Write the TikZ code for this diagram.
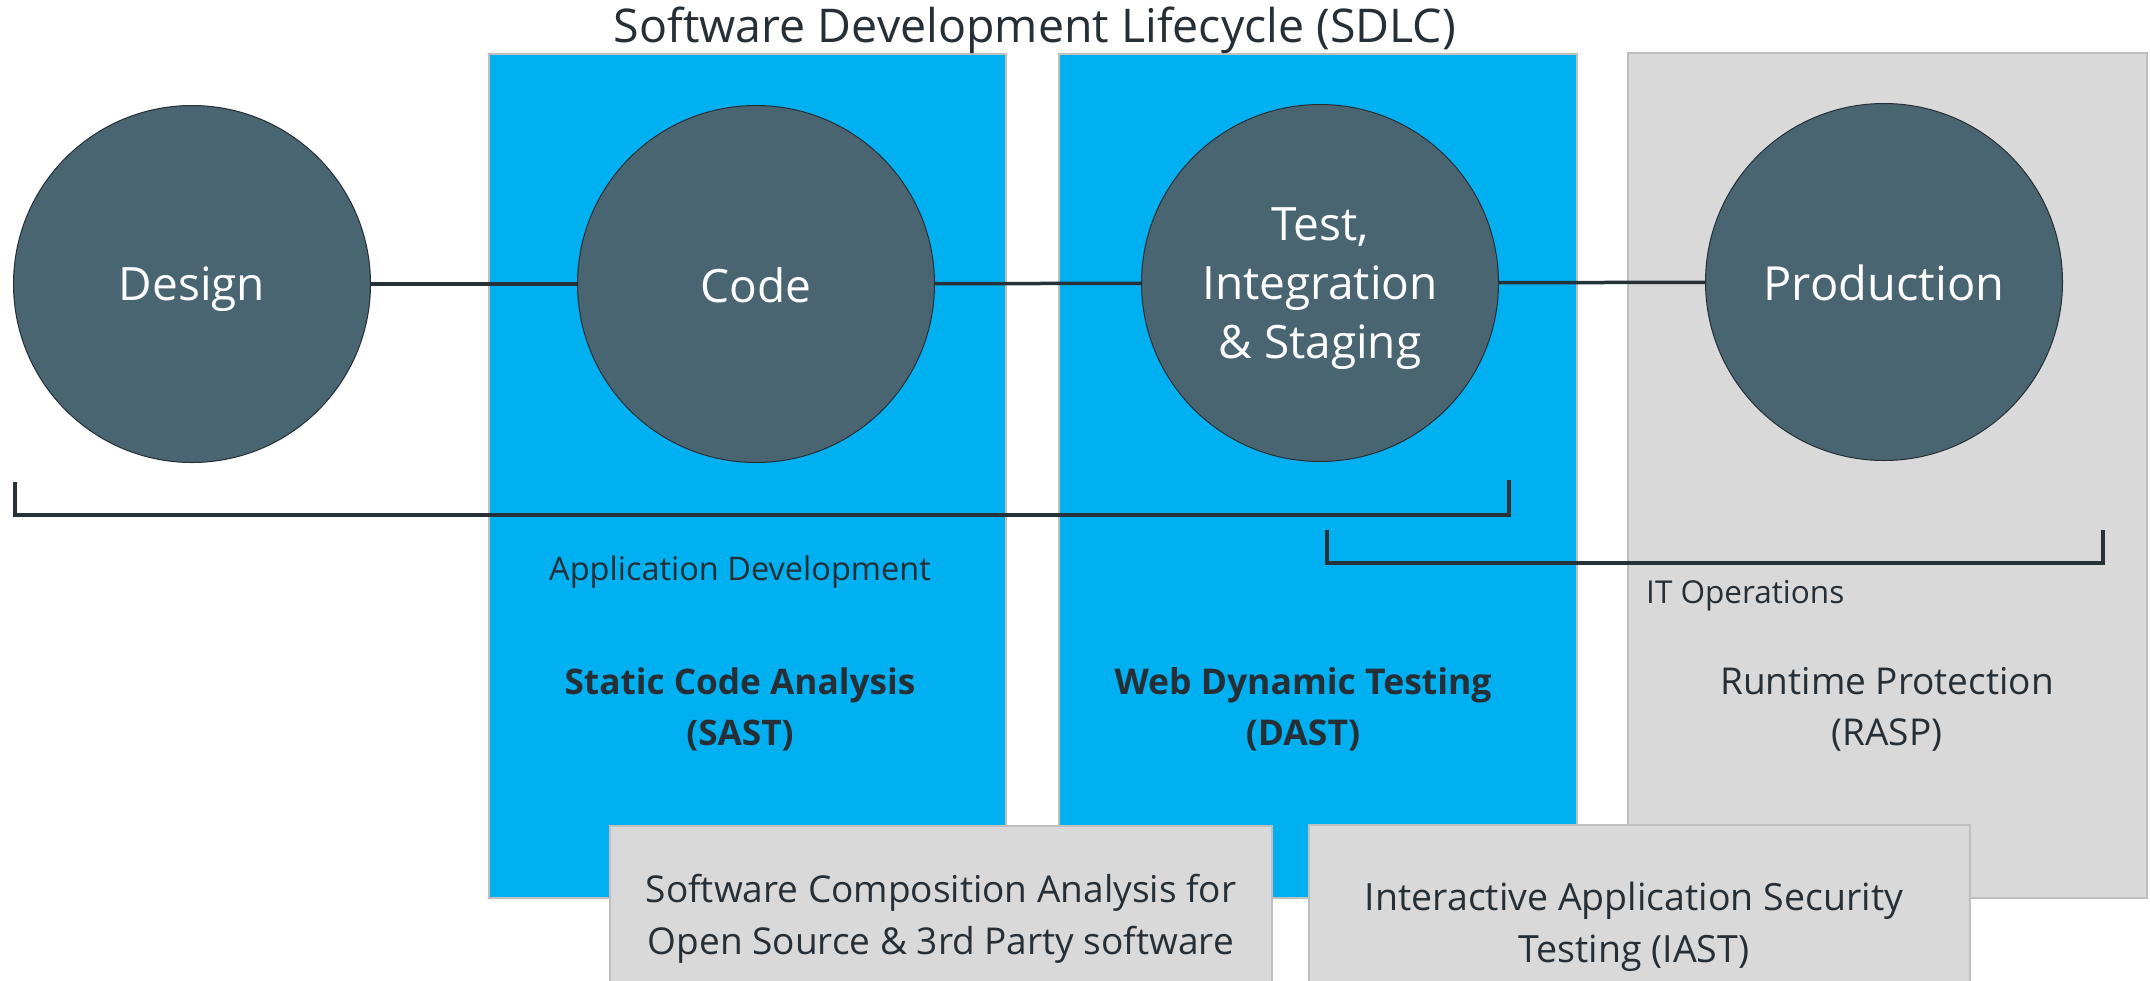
\documentclass[tikz,border=0pt]{standalone}
\usepackage{fontspec}
\setmainfont{Open Sans}
\definecolor{blueb}{HTML}{00B0F0}
\definecolor{greyb}{HTML}{D9D9D9}
\definecolor{edgeg}{HTML}{BFBFBF}
\definecolor{circ}{HTML}{4A6572}
\definecolor{ink}{HTML}{262F36}
\definecolor{linec}{HTML}{263238}
\tikzset{
  phase/.style={circle, fill=circ, draw=ink, line width=1pt, minimum size=357pt, inner sep=0pt},
  phasetext/.style={text=white, align=center, inner sep=0pt, font=\fontsize{46}{59}\selectfont},
  bluebox/.style={fill=blueb, draw=edgeg, line width=2pt},
  greybox/.style={fill=greyb, draw=edgeg, line width=2pt},
  link/.style={draw=linec, line width=3.5pt},
  brace/.style={draw=linec, line width=4pt},
  lbl/.style={text=ink, align=center, inner sep=0pt},
}
\begin{document}
\begin{tikzpicture}[x=1pt,y=-1pt]
\useasboundingbox (0,0) rectangle (2150,980);
\fill[white] (0,0) rectangle (2150,980);
% columns
\draw[bluebox] (489,54) rectangle (1006,898);
\draw[bluebox] (1059,54) rectangle (1577,898);
\draw[greybox] (1628,53) rectangle (2147,898);
% title
\node[lbl, font=\fontsize{46.5}{52}\selectfont] (title) at (1035,30) {Software Development Lifecycle (SDLC)};
% phases
\node[phase] (design) at (192,284) {};
\node[phase] (code) at (756,284) {};
\node[phase] (test) at (1320,283) {};
\node[phase] (prod) at (1884,282) {};
\node[phasetext] at ([yshift=-5pt]design.center) {Design};
\node[phasetext] at ([yshift=-1pt]code.center) {Code};
\node[phasetext] at ([yshift=-6pt]test.center) {Test,\\Integration\\\& Staging};
\node[phasetext, font=\fontsize{47}{59}\selectfont] at ([yshift=-1pt]prod.center) {Production};
\draw[link] (design) -- (code);
\draw[link] (code) -- (test);
\draw[link] (test) -- (prod);
% brackets
\coordinate (b1a) at (15,482);
\coordinate (b1b) at (1509,480);
\coordinate (b2a) at (1327,530);
\coordinate (b2b) at (2103,530);
\draw[brace] (b1a) -- (b1a |- 0,515) -- (b1b |- 0,515) -- (b1b);
\draw[brace] (b2a) -- (b2a |- 0,563) -- (b2b |- 0,563) -- (b2b);
% labels
\node[lbl, font=\fontsize{32.5}{36}\selectfont] (appdev) at (740,572) {Application Development};
\node[lbl, font=\fontsize{31.5}{34}\selectfont, anchor=west] (itops) at (1646,596) {IT Operations};
\node[lbl, font=\bfseries\fontsize{35.2}{51}\selectfont] (sast) at (740,709) {Static Code Analysis\\(SAST)};
\node[lbl, font=\bfseries\fontsize{35.5}{51}\selectfont] (dast) at (1303,709) {Web Dynamic Testing\\(DAST)};
\node[lbl, font=\fontsize{37}{51}\selectfont] (rasp) at (1887,709) {Runtime Protection\\(RASP)};
% bottom boxes
\draw[greybox] (610,826) rectangle (1272,990);
\node[lbl, font=\fontsize{37}{52}\selectfont] (sca) at (941,919) {Software Composition Analysis for\\Open Source \& 3rd Party software};
\draw[greybox] (1309,825) rectangle (1970,990);
\node[lbl, font=\fontsize{37.5}{52}\selectfont] (iast) at (1634,927) {Interactive Application Security\\Testing (IAST)};
\end{tikzpicture}
\end{document}
